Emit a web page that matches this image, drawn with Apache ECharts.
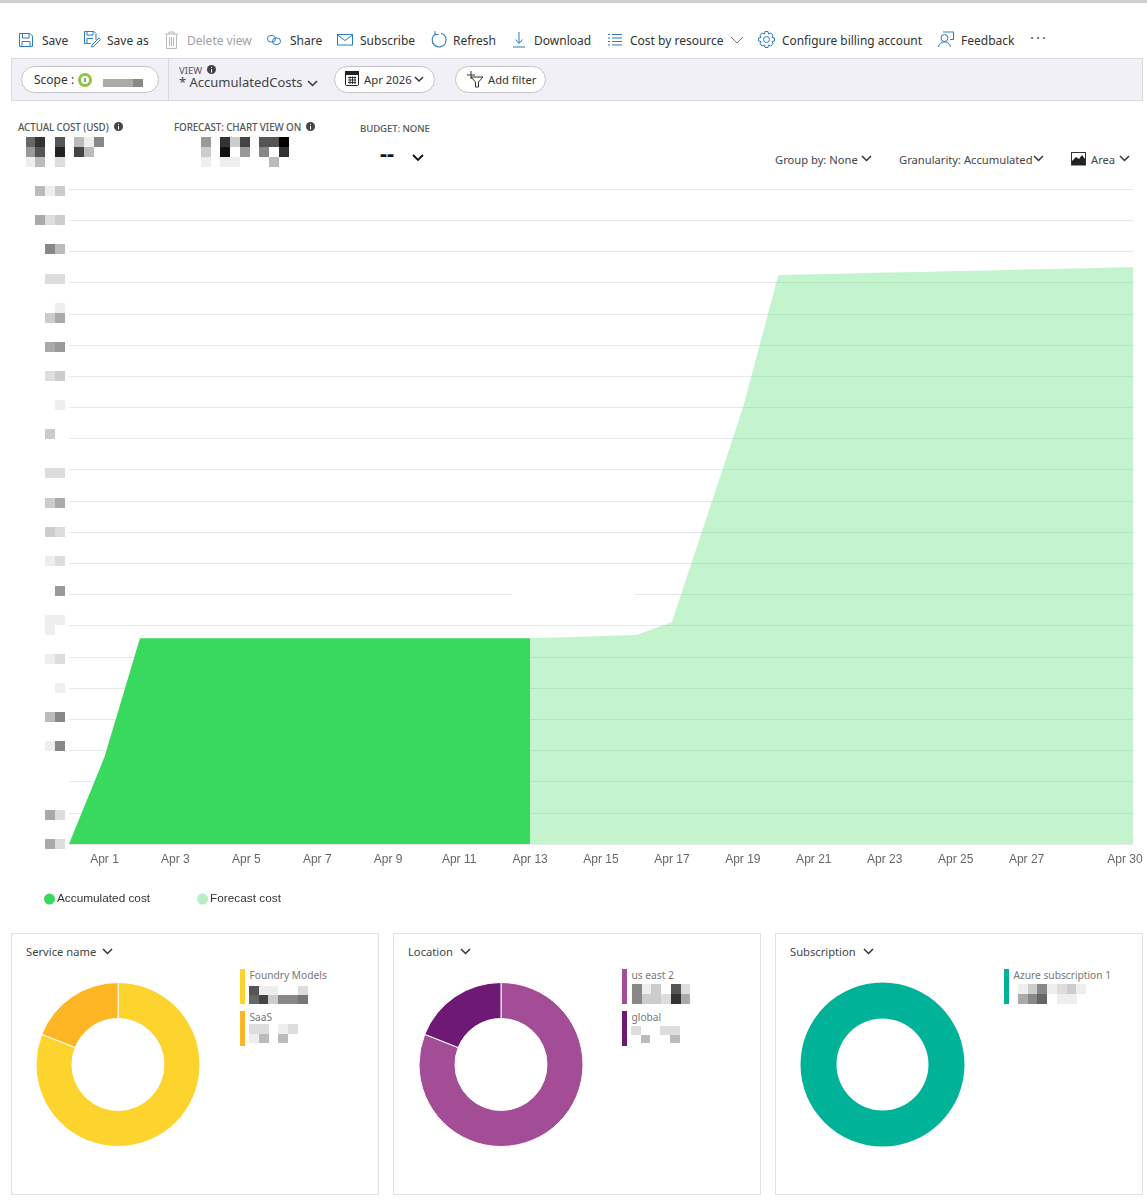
<!DOCTYPE html>
<html lang="en">
<head>
<meta charset="UTF-8">
<script src="https://cdn.jsdelivr.net/npm/echarts@6/dist/echarts.min.js"></script>
<style>
  html, body { margin: 0; padding: 0; background: #fff; }
  #page { position: relative; width: 1147px; height: 1200px; overflow: hidden; font-family: "Noto Sans", sans-serif; }
  #chrome, #main { position: absolute; left: 0; top: 0; width: 1147px; height: 1200px; }
  .t { position: absolute; white-space: nowrap; transform: translateY(-50%); }
  .b { position: absolute; box-sizing: border-box; }
  svg { position: absolute; overflow: visible; fill: none; }
</style>
</head>
<body>
<div id="page">
  <div id="chrome"></div>
  <div id="main"></div>
</div>
<script>
  // chart data (y values are in gridline units, the real axis labels are pixelated out)
  var days = ['', 'Apr 1', 'Apr 2', 'Apr 3', 'Apr 4', 'Apr 5', 'Apr 6', 'Apr 7', 'Apr 8', 'Apr 9', 'Apr 10',
    'Apr 11', 'Apr 12', 'Apr 13', 'Apr 14', 'Apr 15', 'Apr 16', 'Apr 17', 'Apr 18', 'Apr 19', 'Apr 20',
    'Apr 21', 'Apr 22', 'Apr 23', 'Apr 24', 'Apr 25', 'Apr 26', 'Apr 27', 'Apr 28', 'Apr 29', 'Apr 30'];
  var accumulated = [0, 2.79, 6.6, 6.6, 6.6, 6.6, 6.6, 6.6, 6.6, 6.6, 6.6, 6.6, 6.6, 6.6];
  var forecast = [null, null, null, null, null, null, null, null, null, null, null, null, null,
    6.6, 6.63, 6.67, 6.7, 7.12, 10.55, 13.98, 18.24, 18.27, 18.29, 18.32, 18.34, 18.37, 18.39, 18.42, 18.44, 18.47, 18.5];

  var serviceNames = ['Foundry Models', 'SaaS'];
  var serviceValues = [81, 19];
  var serviceColors = ['#fdd32e', '#ffb624'];
  var locationNames = ['us east 2', 'global'];
  var locationValues = [81, 19];
  var locationColors = ['#a24d96', '#6e1a74'];
  var subscriptionNames = ['Azure subscription 1'];
  var subscriptionValues = [100];
  var subscriptionColors = ['#00b398'];

  // pixelated blocks, one hex digit = grey level per cell, '.' = empty
  // [x, y, cell width, cell height, rows]
  var mosaics = [
    [35, 186, 10, 10, ['bec']], [35, 215, 10, 10, ['adc']], [35, 244, 10, 10, ['.8b']],
    [35, 274, 10, 10, ['.dd', '.ff']], [35, 303, 10, 10, ['..e', '.ca']], [35, 342, 10, 10, ['fa9']],
    [35, 371, 10, 10, ['fdc']], [35, 400, 10, 10, ['.fe']], [35, 429, 10, 10, ['.cf']],
    [35, 468, 10, 10, ['.dd']], [35, 498, 10, 10, ['.ca']], [35, 527, 10, 10, ['.cd']],
    [35, 556, 10, 10, ['.ed']], [35, 586, 10, 10, ['..9']], [35, 615, 10, 10, ['.ee', '.ef']],
    [35, 654, 10, 10, ['.ed']], [35, 683, 10, 10, ['.fe']], [35, 712, 10, 10, ['fb8']],
    [35, 741, 10, 10, ['.e8', '..f']], [35, 771, 10, 10, ['..f', '..f']], [35, 810, 10, 10, ['.ad']],
    [35, 839, 10, 10, ['.ad']],
    [16, 137, 9.7, 10, ['f63.5.be8', '.95.2.4b', 'feb.dff..f']],
    [201, 137, 9.7, 10, ['9.3c4.550', 'c.1.9.8.3', 'e.eeff.b..f']],
    [103, 79, 10, 8, ['aaa8']],
    [249, 986, 9.7, 9, ['5ee..d', '64c887']],
    [249, 1024, 9.7, 9.5, ['dd.ed', 'eb.b']],
    [632, 984, 9.7, 10, ['8ec.5df', '8ccd3af']],
    [631, 1026, 9.7, 8.5, ['d.fdd', '.bffb']],
    [1018, 984, 9.7, 10, ['ec8edce', 'a86fee']]
  ];

  var chrome = document.getElementById('chrome');

  function txt(s, x, cy, size, color, extra) {
    var d = document.createElement('div');
    d.className = 't';
    d.textContent = s;
    d.style.cssText = 'left:' + x + 'px;top:' + cy + 'px;font-size:' + size + 'px;color:' + color + ';' + (extra || '');
    chrome.appendChild(d);
  }
  function box(x, y, w, h, css) {
    var d = document.createElement('div');
    d.className = 'b';
    d.style.cssText = 'left:' + x + 'px;top:' + y + 'px;width:' + w + 'px;height:' + h + 'px;' + css;
    chrome.appendChild(d);
  }
  function svg(x, y, inner, color) {
    var s = document.createElementNS('http://www.w3.org/2000/svg', 'svg');
    s.setAttribute('width', 20);
    s.setAttribute('height', 20);
    s.setAttribute('stroke', color);
    s.style.left = x + 'px';
    s.style.top = y + 'px';
    s.innerHTML = inner;
    chrome.appendChild(s);
  }
  function chevron(x, y, w, color, sw) {
    svg(x, y, '<polyline points="0,0 ' + (w / 2) + ',' + (w / 2) + ' ' + w + ',0" stroke-width="' + (sw || 1.5) + '"/>', color || '#333');
  }

  // top border
  box(0, 0, 1147, 3, 'background:#cfd2d2');

  // toolbar
  var blue = '#2b7cc0';
  svg(19, 33, '<path d="M.5 .5H11L13.5 3V13.5H.5Z"/><path d="M3.5 .5V5H10V.5M3 13.5V8.5H11V13.5"/>', blue);
  txt('Save', 42, 39.5, 12, '#333');
  svg(84, 31, '<path d="M.5 .5H10L12 2.5V9M.5 .5V12.5H7"/><path d="M3 .5V4H9V.5M3 12V7.5H9"/><path d="M8 14L15 7 16.5 8.5 9.5 15.5 7.5 16Z"/>', blue);
  txt('Save as', 107, 39.5, 12, '#333');
  svg(165, 31, '<path d="M1.5 3.5V17.5H11.5V3.5M0 3H13M4 3V1H9V3M4.5 6V15M6.5 6V15M8.5 6V15"/>', '#b8b8b8');
  txt('Delete view', 187, 39.5, 12, '#a0a0a0');
  svg(267, 35, '<rect x=".5" y=".5" width="8" height="6.5" rx="3.2"/><rect x="5.5" y="3" width="8" height="6.5" rx="3.2"/>', blue);
  txt('Share', 290, 39.5, 12, '#333');
  svg(337, 34, '<rect x=".5" y=".5" width="15" height="10.5"/><path d="M.5 1L8 6.5 15.5 1"/>', blue);
  txt('Subscribe', 360, 39.5, 12, '#333');
  svg(431, 31, '<path d="M4.5 3A7 7 0 1 0 10 2.2" stroke-width="1.1"/><path d="M4 0V3.5H7.5"/>', blue);
  txt('Refresh', 453, 39.5, 12, '#333');
  svg(513, 32, '<path d="M6 0V11M2.5 7.5L6 11.5 9.5 7.5M0 15H12"/>', blue);
  txt('Download', 534, 39.5, 12, '#333');
  svg(607, 33, '<path d="M5 1.5H15M5 5H15M5 8.5H15M5 12H15M1 1.5H3M1 5H3M1 8.5H3M1 12H3"/>', blue);
  txt('Cost by resource', 630, 39.5, 12, '#333');
  chevron(731, 37, 12, '#777', 1);
  svg(758, 31, '<circle cx="8.5" cy="8.5" r="3"/><path d="M7 .5H10L10.5 3 12.8 2 15 4.2 14 6.5 16.5 7V10L14 10.5 15 12.8 12.8 15 10.5 14 10 16.5H7L6.5 14 4.2 15 2 12.8 3 10.5 .5 10V7L3 6.5 2 4.2 4.2 2 6.5 3Z"/>', blue);
  txt('Configure billing account', 782, 39.5, 11.9, '#333');
  svg(938, 31, '<circle cx="6.5" cy="7" r="3.5"/><path d="M.5 16C1 12.5 3.5 11 6.5 11S12 12.5 12.5 16M5 1H15.5V8.5H12"/>', blue);
  txt('Feedback', 961, 39.5, 12, '#333');
  txt('···', 1030, 37, 15, '#555', 'letter-spacing:2px');

  // filter bar
  box(11, 58, 1132, 43, 'background:#f0f0f6;border:1px solid #d9d9e0');
  box(168, 59, 1, 41, 'background:#d9d9e0');
  box(21, 66, 138, 27, 'background:#fff;border:1px solid #c4c4c8;border-radius:14px');
  txt('Scope :', 34, 79, 12, '#333');
  svg(78, 73, '<circle cx="7" cy="7" r="5.5" stroke="#8cc63f" stroke-width="3"/><path d="M7 5V9" stroke="#333" stroke-width="1"/>', '#333');
  txt('VIEW', 179, 70, 9.5, '#555');
  svg(207, 65, '<circle cx="4.5" cy="4.5" r="4.5" fill="#444" stroke="none"/><path d="M4.5 4V7.5M4.5 2V3" stroke="#fff"/>', '#444');
  txt('* AccumulatedCosts', 179, 81.5, 13, '#444');
  chevron(308, 81, 9, '#333');
  box(334, 66, 101, 27, 'background:#fff;border:1px solid #c4c4c8;border-radius:14px');
  svg(345, 71, '<rect x=".5" y=".5" width="13" height="14" rx="1" fill="#fff"/><rect x=".5" y=".5" width="13" height="3" fill="#222"/><path d="M3 6.5H11M3 9H11M3 11.5H11M5 5.5V13M7.5 5.5V13M10 5.5V13" stroke-width=".9"/>', '#222');
  txt('Apr 2026', 364, 79, 11.3, '#333');
  chevron(415, 77, 8, '#333');
  box(455, 66, 91, 27, 'background:#fff;border:1px solid #c4c4c8;border-radius:14px');
  svg(467, 70, '<path d="M0 5H8M4 1V9"/><path d="M4 7H16L11.5 12V17H8.5V12Z"/>', '#333');
  txt('Add filter', 488, 79, 11.2, '#333');

  // cost summary
  var small = 'letter-spacing:-.1px;font-weight:500;';
  txt('ACTUAL COST (USD)', 18, 126.5, 9.8, '#555', small);
  svg(114, 122, '<circle cx="4.5" cy="4.5" r="4.5" fill="#444" stroke="none"/><path d="M4.5 4V7.5M4.5 2V3" stroke="#fff"/>', '#444');
  txt('FORECAST: CHART VIEW ON', 174, 126.5, 9.8, '#555', small);
  svg(306, 122, '<circle cx="4.5" cy="4.5" r="4.5" fill="#444" stroke="none"/><path d="M4.5 4V7.5M4.5 2V3" stroke="#fff"/>', '#444');
  txt('BUDGET: NONE', 360, 127.5, 9.6, '#555', small);
  txt('--', 380, 152, 22, '#111', 'font-weight:700');
  chevron(413, 155, 10, '#111', 1.8);

  // chart options row
  txt('Group by: None', 775, 159, 11.2, '#444');
  chevron(862, 156, 9, '#333');
  txt('Granularity: Accumulated', 899, 159, 11.2, '#444');
  chevron(1034, 156, 9, '#333');
  svg(1071, 152, '<rect x=".5" y=".5" width="14" height="12.5" stroke="#333"/><path d="M1 13L1 9 5 5 8 7 11 3 14 7V13Z" fill="#222" stroke="none"/>', '#333');
  txt('Area', 1091, 159, 11.2, '#444');
  chevron(1120, 156, 9, '#333');

  // bottom panels
  box(11, 933, 368, 262, 'border:1px solid #e2e2e2');
  box(393, 933, 368, 262, 'border:1px solid #e2e2e2');
  box(775, 933, 368, 262, 'border:1px solid #e2e2e2');
  txt('Service name', 26, 951, 11.2, '#444');
  chevron(103, 949, 9, '#333');
  txt('Location', 408, 951, 11.2, '#444');
  chevron(461, 949, 9, '#333');
  txt('Subscription', 790, 951, 11.2, '#444');
  chevron(864, 949, 9, '#333');

  function pieLegend(x, names, colors) {
    names.forEach(function (name, i) {
      box(x, 969 + i * 42, 5, 35, 'background:' + colors[i]);
      txt(name, x + 9.5, 974.5 + i * 42, 10.2, '#777');
    });
  }
  pieLegend(240, serviceNames, serviceColors);
  pieLegend(622, locationNames, locationColors);
  pieLegend(1004, subscriptionNames, subscriptionColors);

  // pixelated blocks
  mosaics.forEach(function (m) {
    m[4].forEach(function (row, r) {
      row.split('').forEach(function (c, i) {
        if (c === '.') return;
        var g = parseInt(c, 16) * 17;
        box(m[0] + i * m[2], m[1] + r * m[3], m[2] + 0.3, m[3] + 0.3, 'background:rgb(' + g + ',' + g + ',' + g + ')');
      });
    });
  });

  function pieSeries(cx, names, values, colors) {
    return {
      type: 'pie',
      center: [cx, 1064.5],
      radius: [46, 82],
      startAngle: 90,
      silent: true,
      label: { show: false },
      labelLine: { show: false },
      itemStyle: { borderColor: '#fff', borderWidth: values.length > 1 ? 1 : 0 },
      data: names.map(function (name, i) {
        return { name: name, value: values[i], itemStyle: { color: colors[i] } };
      })
    };
  }

  var myChart = echarts.init(document.getElementById('main'), null, { renderer: 'canvas' });
  var option = {
    animation: false,
    backgroundColor: 'transparent',
    grid: { left: 69, right: 14, top: 189, bottom: 356, containLabel: false },
    legend: {
      left: 39,
      top: 888,
      icon: 'circle',
      itemWidth: 11,
      itemHeight: 11,
      itemGap: 47,
      selectedMode: false,
      data: ['Accumulated cost', 'Forecast cost'],
      textStyle: { fontFamily: 'Liberation Sans', fontSize: 11.8, color: '#333', padding: [0, 0, 0, -3] }
    },
    xAxis: {
      type: 'category',
      boundaryGap: false,
      data: days,
      axisLine: { show: false },
      axisTick: { show: false },
      axisLabel: {
        margin: 10,
        fontFamily: 'Liberation Sans',
        fontSize: 12,
        color: '#666',
        interval: function (index) {
          return index === 30 || (index % 2 === 1 && index <= 27);
        },
        formatter: function (value) {
          return value === 'Apr 30' ? '{last|' + value + '}' : value;
        },
        rich: {
          last: { fontFamily: 'Liberation Sans', fontSize: 12, color: '#666', padding: [0, 16, 0, 0] }
        }
      }
    },
    yAxis: {
      type: 'value',
      min: 0,
      max: 21,
      interval: 1,
      axisLabel: { show: false },
      axisLine: { show: false },
      axisTick: { show: false },
      splitLine: { lineStyle: { color: '#e8e8e8', width: 1 } }
    },
    // the reference has a gap in one gridline
    graphic: [{
      type: 'rect',
      z: 1,
      shape: { x: 512, y: 590, width: 123, height: 8 },
      style: { fill: '#fff' },
      silent: true
    }],
    series: [
      {
        name: 'Accumulated cost',
        type: 'line',
        data: accumulated,
        symbol: 'none',
        itemStyle: { color: '#39d95e' },
        lineStyle: { width: 0 },
        areaStyle: { color: '#39d95e', opacity: 1 },
        z: 3
      },
      {
        name: 'Forecast cost',
        type: 'line',
        data: forecast,
        symbol: 'none',
        itemStyle: { color: '#b6efc4' },
        lineStyle: { width: 0 },
        areaStyle: { color: '#39d95e', opacity: 0.3 },
        z: 2
      },
      pieSeries(118, serviceNames, serviceValues, serviceColors),
      pieSeries(501, locationNames, locationValues, locationColors),
      pieSeries(882.5, subscriptionNames, subscriptionValues, subscriptionColors)
    ]
  };
  myChart.setOption(option);
</script>
</body>
</html>
